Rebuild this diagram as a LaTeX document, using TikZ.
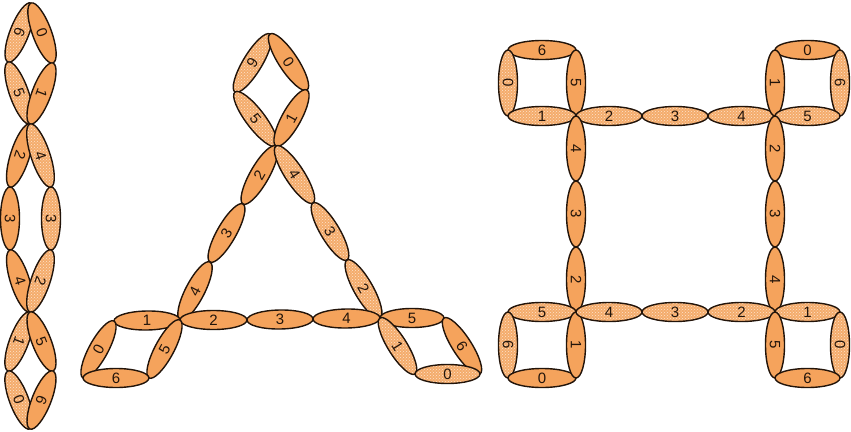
\documentclass[tikz,border=0pt]{standalone}
\usepackage{fontspec}
\setmainfont{Liberation Sans}
\usepackage{xcolor}
\usepackage{tikz}
\usetikzlibrary{shapes.geometric,patterns,calc}
\definecolor{lobeorange}{RGB}{245,163,92}
\definecolor{lobelight}{RGB}{244,172,108}
\definecolor{lobedots}{RGB}{253,228,204}
\definecolor{lobeline}{RGB}{34,20,10}
\tikzset{
  lobe/.style={ellipse, draw=lobeline, line width=1.4pt, fill=lobeorange,
    minimum height=19pt, inner sep=0pt, text=lobeline,
    font=\fontsize{15}{17}\selectfont},
  lobedot/.style={lobe, preaction={fill=lobelight}, pattern=crosshatch dots,
    pattern color=lobedots}
}
% một hình elip giữa hai điểm
\newcommand\lobe[5][lobe]{%
  \path let \p1=(#3), \p2=(#4), \n1={atan2(\y2-\y1,\x2-\x1)},
    \n2={veclen(\x2-\x1,\y2-\y1)} in
    node[#1, rotate=\n1, minimum width=\n2] (#2) at ($(#3)!.5!(#4)$) {#5};}
\begin{document}
\begin{tikzpicture}[x=1pt,y=-1pt]
  \useasboundingbox (0,0) rectangle (851,431);
  % Chuỗi bên trái
  \coordinate (c0) at (31,3);
  \coordinate (c1) at (8,62);
  \coordinate (c2) at (53,63);
  \coordinate (c3) at (30,124);
  \coordinate (c4) at (10,187);
  \coordinate (c5) at (51,187);
  \coordinate (c6) at (10,250);
  \coordinate (c7) at (51,250);
  \coordinate (c8) at (30,312);
  \coordinate (c9) at (8,371);
  \coordinate (c10) at (53,371);
  \coordinate (c11) at (30,429);
  \lobe[lobedot]{a6}{c0}{c1}{6}
  \lobe{a0}{c0}{c2}{0}
  \lobe[lobedot]{a5}{c1}{c3}{5}
  \lobe{a1}{c2}{c3}{1}
  \lobe{a2}{c3}{c4}{2}
  \lobe[lobedot]{a4}{c3}{c5}{4}
  \lobe{a3l}{c4}{c6}{3}
  \lobe[lobedot]{a3r}{c5}{c7}{3}
  \lobe{a4l}{c6}{c8}{4}
  \lobe[lobedot]{a2r}{c7}{c8}{2}
  \lobe[lobedot]{a1b}{c8}{c9}{1}
  \lobe{a5b}{c8}{c10}{5}
  \lobe[lobedot]{a0b}{c9}{c11}{0}
  \lobe{a6b}{c10}{c11}{6}
  % Tam giác
  \coordinate (t0) at (270,34);
  \coordinate (t1) at (235,92);
  \coordinate (t2) at (307,90);
  \coordinate (t3) at (276,146);
  \coordinate (t4) at (243,204);
  \coordinate (t5) at (210,262);
  \coordinate (ta) at (180,320);
  \coordinate (t6) at (313,203);
  \coordinate (t7) at (347,260);
  \coordinate (tb) at (380,318);
  \coordinate (t8) at (247,320);
  \coordinate (t9) at (313,319);
  \coordinate (q1) at (114,321);
  \coordinate (q2) at (83,378);
  \coordinate (q3) at (149,378);
  \coordinate (r1) at (444,318);
  \coordinate (r2) at (415,374);
  \coordinate (r3) at (480,374);
  \lobe[lobedot]{b6}{t0}{t1}{6}
  \lobe{b0}{t0}{t2}{0}
  \lobe[lobedot]{b5}{t1}{t3}{5}
  \lobe{b1}{t3}{t2}{1}
  \lobe{bl2}{t4}{t3}{2}
  \lobe{bl3}{t5}{t4}{3}
  \lobe{bl4}{ta}{t5}{4}
  \lobe[lobedot]{br4}{t3}{t6}{4}
  \lobe[lobedot]{br3}{t6}{t7}{3}
  \lobe[lobedot]{br2}{t7}{tb}{2}
  \lobe{bb2}{ta}{t8}{2}
  \lobe{bb3}{t8}{t9}{3}
  \lobe{bb4}{t9}{tb}{4}
  \lobe{bq1}{q1}{ta}{1}
  \lobe{bq0}{q2}{q1}{0}
  \lobe{bq5}{q3}{ta}{5}
  \lobe{bq6}{q2}{q3}{6}
  \lobe{bs5}{tb}{r1}{5}
  \lobe[lobedot]{bs1}{tb}{r2}{1}
  \lobe{bs6}{r1}{r3}{6}
  \lobe[lobedot]{bs0}{r2}{r3}{0}
  % Hình vuông bên phải
  \foreach \i/\x in {1/508,2/576,3/642,4/708,5/775,6/840}
    \foreach \j/\y in {1/50,2/116,3/181,4/247,5/312,6/378}
      \coordinate (g\i\j) at (\x,\y);
  \lobe{h6}{g11}{g21}{6}
  \lobe[lobedot]{h0}{g11}{g12}{0}
  \lobe{h5}{g21}{g22}{5}
  \lobe[lobedot]{h1}{g12}{g22}{1}
  \lobe[lobedot]{ht2}{g22}{g32}{2}
  \lobe[lobedot]{ht3}{g32}{g42}{3}
  \lobe[lobedot]{ht4}{g42}{g52}{4}
  \lobe{hr0}{g51}{g61}{0}
  \lobe{hr1}{g51}{g52}{1}
  \lobe[lobedot]{hr6}{g61}{g62}{6}
  \lobe[lobedot]{hr5}{g52}{g62}{5}
  \lobe{hl4}{g22}{g23}{4}
  \lobe{hl3}{g23}{g24}{3}
  \lobe{hl2}{g24}{g25}{2}
  \lobe{hc2}{g52}{g53}{2}
  \lobe{hc3}{g53}{g54}{3}
  \lobe{hc4}{g54}{g55}{4}
  \lobe[lobedot]{hb5}{g15}{g25}{5}
  \lobe[lobedot]{hb6}{g15}{g16}{6}
  \lobe{hb0}{g16}{g26}{0}
  \lobe{hb1}{g25}{g26}{1}
  \lobe[lobedot]{hd4}{g25}{g35}{4}
  \lobe[lobedot]{hd3}{g35}{g45}{3}
  \lobe[lobedot]{hd2}{g45}{g55}{2}
  \lobe[lobedot]{he1}{g55}{g65}{1}
  \lobe{he5}{g55}{g56}{5}
  \lobe[lobedot]{he0}{g65}{g66}{0}
  \lobe{he6}{g56}{g66}{6}
\end{tikzpicture}
\end{document}
